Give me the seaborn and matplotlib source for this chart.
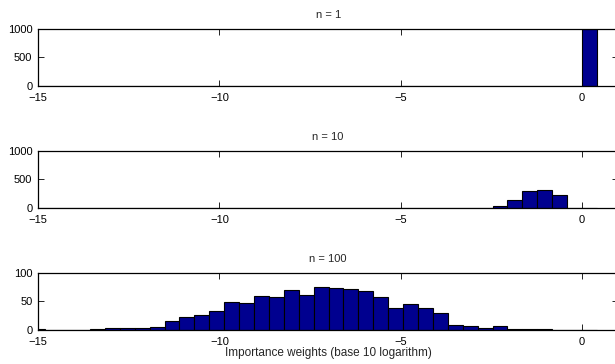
import numpy as np
import pandas as pd
import seaborn as sns
import matplotlib.pyplot as plt

# shared histogram bins (log10 of importance weights)
bin_lo = -15.21
bin_hi = 0.41
n_bins = 38

# counts per bin for each sample size
counts_n1 = [0] * 37 + [1000]
counts_n10 = [0] * 31 + [42, 137, 304, 315, 220, 0, 0]
counts_n100 = [1, 0, 0, 0, 1, 4, 4, 3, 6, 16, 23, 26, 33, 49, 47, 59, 58, 70, 61,
               75, 73, 72, 69, 57, 39, 45, 38, 29, 9, 7, 3, 7, 2, 2, 1, 0, 0, 0]

titles = ["n = 1", "n = 10", "n = 100"]
y_maxes = [1000, 1000, 100]
x_ticks = [-15, -10, -5, 0]
x_label = "Importance weights (base 10 logarithm)"

sns.set_theme(style="ticks")
plt.rcParams["font.family"] = ["Liberation Sans", "DejaVu Sans"]
plt.rcParams["axes.linewidth"] = 0.9
plt.rcParams["axes.edgecolor"] = "black"

edges = np.linspace(bin_lo, bin_hi, n_bins + 1)
centers = (edges[:-1] + edges[1:]) / 2

fig = plt.figure(figsize=(6.15, 3.64), dpi=100)
bottoms = [0.7637, 0.4286, 0.0934]
all_counts = [counts_n1, counts_n10, counts_n100]

for bottom, counts, title, ymax in zip(bottoms, all_counts, titles, y_maxes):
    ax = fig.add_axes([0.0618, bottom, 0.9436, 0.157])
    df = pd.DataFrame({"logw": centers, "count": counts})
    sns.histplot(data=df, x="logw", weights="count", bins=list(edges), ax=ax,
                 color="#00008F", edgecolor="black", linewidth=0.8, alpha=1)
    ax.set_xlim(-15, 1)
    ax.set_ylim(0, ymax)
    ax.set_xticks(x_ticks)
    ax.set_yticks([0, ymax / 2, ymax])
    ax.set_yticklabels([str(int(v)) for v in [0, ymax / 2, ymax]])
    ax.tick_params(direction="in", top=True, right=True, length=4, width=0.6,
                   labelsize=8, colors="black")
    ax.tick_params(axis="y", pad=4)
    ax.tick_params(axis="x", pad=5)
    ax.set_title(title, fontsize=8, pad=8)
    ax.set_ylabel("")
    ax.set_xlabel("")
    for s in ax.spines.values():
        s.set_visible(True)

ax.set_xlabel(x_label, fontsize=8.5, labelpad=0)

fig.savefig("out.png", dpi=100)
